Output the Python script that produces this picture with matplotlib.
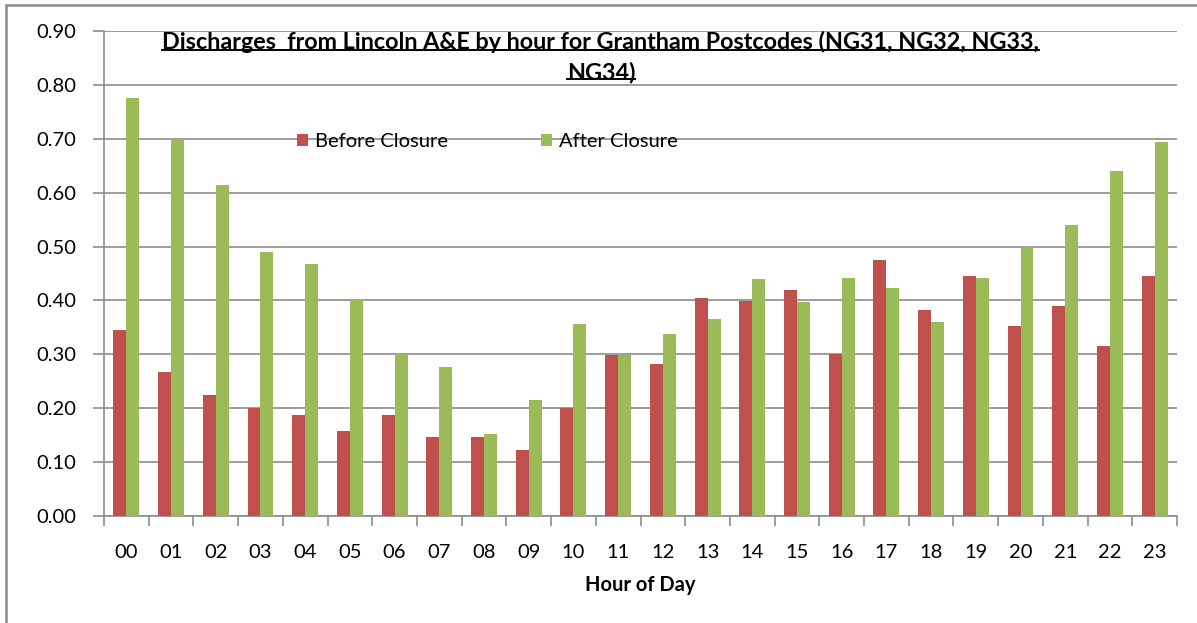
import numpy as np
import matplotlib
matplotlib.use("Agg")
import matplotlib.pyplot as plt
from matplotlib.lines import Line2D
from matplotlib.patches import Rectangle

hours = ['00', '01', '02', '03', '04', '05', '06', '07', '08', '09', '10', '11',
         '12', '13', '14', '15', '16', '17', '18', '19', '20', '21', '22', '23']
before = [0.345, 0.268, 0.225, 0.200, 0.187, 0.157, 0.187, 0.146, 0.146, 0.123, 0.200, 0.298,
          0.283, 0.405, 0.399, 0.420, 0.300, 0.475, 0.382, 0.446, 0.353, 0.390, 0.316, 0.446]
after = [0.775, 0.700, 0.615, 0.490, 0.468, 0.400, 0.300, 0.276, 0.153, 0.216, 0.357, 0.298,
         0.338, 0.365, 0.440, 0.398, 0.441, 0.423, 0.360, 0.441, 0.500, 0.541, 0.640, 0.694]
yticks = [0.0, 0.1, 0.2, 0.3, 0.4, 0.5, 0.6, 0.7, 0.8, 0.9]

plt.rcParams['font.family'] = ['Lato', 'DejaVu Sans']

fig = plt.figure(figsize=(11.97, 6.23), dpi=100)
ax = fig.add_axes([0.0869, 0.1718, 0.8964, 0.7782])

x = np.arange(len(hours))
w = 0.29
ax.bar(x - w / 2, before, w, color='#C0504D', label='Before Closure', zorder=3)
ax.bar(x + w / 2, after, w, color='#9BBB59', label='After Closure', zorder=3)

ax.set_xlim(-0.5, len(hours) - 0.5)
ax.set_ylim(0, 0.9)
ax.set_yticks(yticks)
ax.set_yticklabels(['%.2f' % v for v in yticks], fontsize=14.5)
ax.yaxis.grid(True, color='#8c8c8c', linewidth=1.2, zorder=0)
ax.set_xticks(x)
ax.set_xticklabels(hours, fontsize=14.5)
ax.set_xticks(np.arange(-0.5, len(hours)), minor=True)
ax.tick_params(axis='x', which='major', length=0, pad=20)
ax.tick_params(axis='x', which='minor', length=7, color='#8c8c8c', width=1.2)
ax.tick_params(axis='y', length=8, color='#8c8c8c', width=1.2, pad=12)
for s in ['top', 'right']:
    ax.spines[s].set_visible(False)
for s in ['left', 'bottom']:
    ax.spines[s].set_color('#8c8c8c')
    ax.spines[s].set_linewidth(1.2)

ax.set_xlabel('Hour of Day', fontsize=14.5, fontweight='bold', labelpad=10)

ax.legend(loc='center left', bbox_to_anchor=(0.163, 0.772), ncol=2, frameon=False,
          fontsize=14.5, handlelength=0.55, handleheight=0.55, handletextpad=0.35,
          columnspacing=4.6)

# two-line underlined title
t1 = fig.text(0.502, 0.932, 'Discharges  from Lincoln A&E by hour for Grantham Postcodes (NG31, NG32, NG33,',
              ha='center', va='center', fontsize=16.8, fontweight='bold')
t2 = fig.text(0.502, 0.884, 'NG34)', ha='center', va='center', fontsize=16.8, fontweight='bold')
fig.canvas.draw()
r = fig.canvas.get_renderer()
for t in (t1, t2):
    bb = t.get_window_extent(r).transformed(fig.transFigure.inverted())
    yl = bb.y0 + 0.006
    fig.add_artist(Line2D([bb.x0, bb.x1], [yl, yl], color='black', linewidth=1.4,
                          transform=fig.transFigure))

fig.add_artist(Rectangle((0.005, -0.01), 1.0, 1.002, transform=fig.transFigure,
                         fill=False, edgecolor='#8c8c8c', linewidth=1.8))

fig.savefig('out.png', dpi=100)
